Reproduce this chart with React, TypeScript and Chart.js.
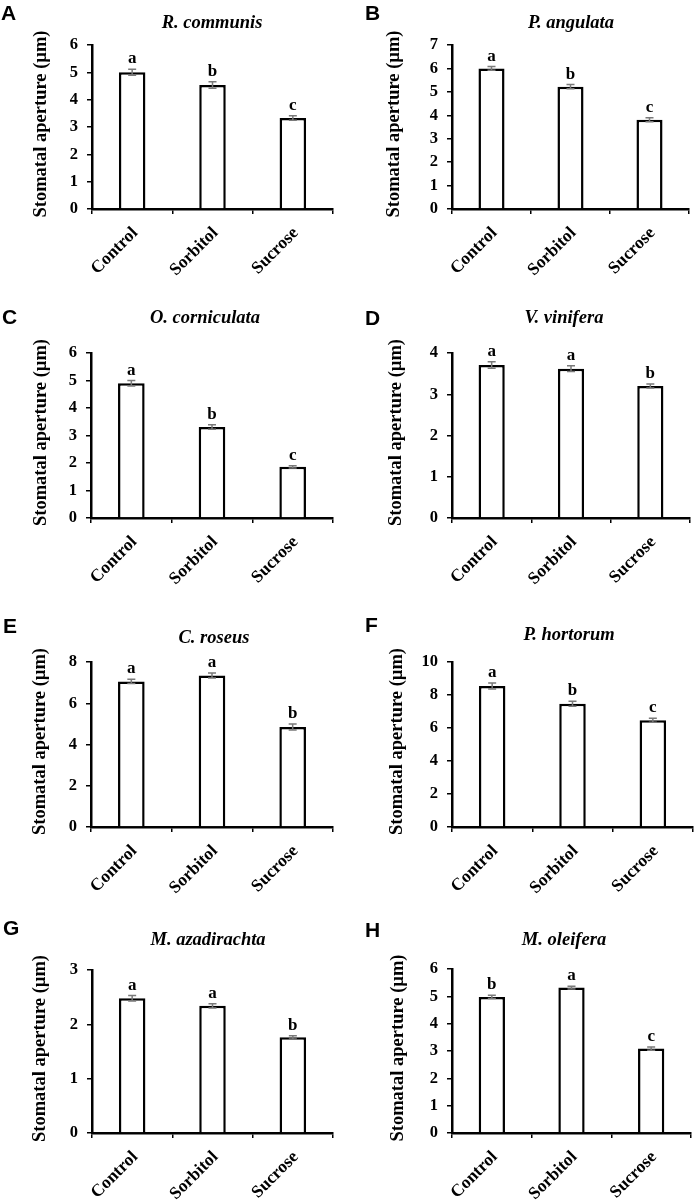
import React, { useEffect, useRef } from 'react';
import Chart from 'chart.js/auto';

const categories = ['Control', 'Sorbitol', 'Sucrose'];
const panelLetters = ['A', 'B', 'C', 'D', 'E', 'F', 'G', 'H'];
const speciesNames = ['R. communis', 'P. angulata', 'O. corniculata', 'V. vinifera', 'C. roseus', 'P. hortorum', 'M. azadirachta', 'M. oleifera'];
const yAxisLabel = 'Stomatal aperture (µm)';

const meansA = [5.0, 4.54, 3.33];
const errorsA = [0.11, 0.12, 0.08];
const sigA = ['a', 'b', 'c'];

const meansB = [6.0, 5.22, 3.81];
const errorsB = [0.08, 0.09, 0.09];
const sigB = ['a', 'b', 'c'];

const meansC = [4.9, 3.31, 1.86];
const errorsC = [0.1, 0.08, 0.04];
const sigC = ['a', 'b', 'c'];

const meansD = [3.71, 3.62, 3.2];
const errorsD = [0.08, 0.07, 0.05];
const sigD = ['a', 'a', 'b'];

const meansE = [7.06, 7.35, 4.85];
const errorsE = [0.1, 0.12, 0.15];
const sigE = ['a', 'a', 'b'];

const meansF = [8.55, 7.47, 6.47];
const errorsF = [0.18, 0.15, 0.12];
const sigF = ['a', 'b', 'c'];

const meansG = [2.48, 2.34, 1.76];
const errorsG = [0.05, 0.04, 0.03];
const sigG = ['a', 'a', 'b'];

const meansH = [4.98, 5.32, 3.09];
const errorsH = [0.06, 0.05, 0.06];
const sigH = ['b', 'a', 'c'];

const yMaxes = [6, 7, 6, 4, 8, 10, 3, 6];
const ySteps = [1, 1, 1, 1, 2, 2, 1, 1];

const allMeans = [meansA, meansB, meansC, meansD, meansE, meansF, meansG, meansH];
const allErrors = [errorsA, errorsB, errorsC, errorsD, errorsE, errorsF, errorsG, errorsH];
const allSig = [sigA, sigB, sigC, sigD, sigE, sigF, sigG, sigH];

// layout (local to each 348x300 panel)
const layouts = [
  { ox: 0, oy: 0, left: 92, top: 45, bottom: 209, right: 333, tx: 212, ty: 28, lx: 1, ly: 20, yl: 41 },
  { ox: 348, oy: 0, left: 104, top: 45, bottom: 209, right: 341, tx: 223, ty: 28, lx: 17, ly: 20, yl: 46 },
  { ox: 0, oy: 300, left: 91, top: 53, bottom: 218, right: 333, tx: 205, ty: 23, lx: 2, ly: 24, yl: 41 },
  { ox: 348, oy: 300, left: 104, top: 53, bottom: 218, right: 342, tx: 216, ty: 23, lx: 17, ly: 25, yl: 48 },
  { ox: 0, oy: 600, left: 91, top: 62, bottom: 227, right: 333, tx: 214, ty: 43, lx: 3, ly: 33, yl: 40 },
  { ox: 348, oy: 600, left: 104, top: 62, bottom: 227, right: 345, tx: 221, ty: 40, lx: 17, ly: 32, yl: 49 },
  { ox: 0, oy: 900, left: 92, top: 70, bottom: 233, right: 333, tx: 208, ty: 45, lx: 3, ly: 35, yl: 40 },
  { ox: 348, oy: 900, left: 104, top: 69, bottom: 233, right: 343, tx: 216, ty: 45, lx: 17, ly: 37, yl: 50 },
];

const W = 348;
const H = 300;
const SERIF = "'Liberation Serif', 'Times New Roman', serif";
const SANS = "'Liberation Sans', Arial, sans-serif";

function Panel({ idx }: { idx: number }) {
  const ref = useRef<HTMLCanvasElement | null>(null);
  useEffect(() => {
    const L = layouts[idx];
    const means = allMeans[idx];
    const errs = allErrors[idx];
    const sig = allSig[idx];
    const decor = {
      id: 'decor' + idx,
      afterDatasetsDraw(chart: any) {
        const ctx = chart.ctx;
        const ys = chart.scales.y;
        const meta = chart.getDatasetMeta(0);
        ctx.save();
        meta.data.forEach((bar: any, i: number) => {
          const x = bar.x;
          const yTop = ys.getPixelForValue(means[i] + errs[i]);
          const yBot = ys.getPixelForValue(means[i] - errs[i]);
          ctx.strokeStyle = '#7a7a7a';
          ctx.lineWidth = 1.5;
          ctx.beginPath();
          ctx.moveTo(x, yTop);
          ctx.lineTo(x, yBot);
          ctx.moveTo(x - 4, yTop);
          ctx.lineTo(x + 4, yTop);
          ctx.moveTo(x - 4, yBot);
          ctx.lineTo(x + 4, yBot);
          ctx.stroke();
          ctx.fillStyle = '#000';
          ctx.font = `bold 17px ${SERIF}`;
          ctx.textAlign = 'center';
          ctx.textBaseline = 'alphabetic';
          ctx.fillText(sig[i], x, yTop - 6);
        });
        ctx.restore();
      },
      afterDraw(chart: any) {
        const ctx = chart.ctx;
        const ca = chart.chartArea;
        ctx.save();
        ctx.fillStyle = '#000';
        ctx.textBaseline = 'alphabetic';
        ctx.font = `bold italic 18.5px ${SERIF}`;
        ctx.textAlign = 'center';
        ctx.fillText(speciesNames[idx], L.tx, L.ty);
        ctx.font = `bold 21px ${SANS}`;
        ctx.textAlign = 'left';
        ctx.fillText(panelLetters[idx], L.lx, L.ly);
        ctx.translate(L.yl, (ca.top + ca.bottom) / 2 - 3);
        ctx.rotate(-Math.PI / 2);
        ctx.font = `bold 18.5px ${SERIF}`;
        ctx.textAlign = 'center';
        ctx.textBaseline = 'middle';
        ctx.fillText(yAxisLabel, 0, 0);
        ctx.restore();
      },
    };
    const chart = new Chart(ref.current as HTMLCanvasElement, {
      type: 'bar',
      data: {
        labels: categories,
        datasets: [
          {
            data: means,
            backgroundColor: '#ffffff',
            borderColor: '#000000',
            borderWidth: 2.5,
            categoryPercentage: 1,
            barPercentage: 0.33,
          },
        ],
      },
      options: {
        animation: false,
        responsive: false,
        events: [],
        layout: { padding: { top: L.top, left: 0, right: W - L.right, bottom: 0 } },
        plugins: { legend: { display: false }, tooltip: { enabled: false }, title: { display: false } },
        scales: {
          x: {
            grid: { display: true, drawOnChartArea: false, color: '#000', lineWidth: 1.5, tickLength: 5, offset: true },
            border: { display: true, color: '#000', width: 2.5 },
            ticks: {
              color: '#000',
              font: { family: SERIF, size: 17.5, weight: 'bold' },
              minRotation: 45,
              maxRotation: 45,
              autoSkip: false,
              padding: 9,
              labelOffset: 3,
            },
            afterFit(scale: any) {
              scale.height = H - L.bottom;
            },
          },
          y: {
            min: 0,
            max: yMaxes[idx],
            grid: { display: true, drawOnChartArea: false, color: '#000', lineWidth: 1.5, tickLength: 5 },
            border: { display: true, color: '#000', width: 2.5 },
            ticks: {
              stepSize: ySteps[idx],
              color: '#000',
              font: { family: SERIF, size: 16.5, weight: 'bold' },
              padding: 9,
            },
            afterFit(scale: any) {
              scale.width = L.left;
            },
          },
        },
      },
      plugins: [decor],
    } as any);
    return () => chart.destroy();
  }, [idx]);
  const L = layouts[idx];
  return (
    <canvas
      ref={ref}
      width={W}
      height={H}
      style={{ position: 'absolute', left: L.ox, top: L.oy, width: W, height: H }}
    />
  );
}

export default function App() {
  return (
    <div style={{ position: 'absolute', left: 0, top: 0, width: 696, height: 1200, background: '#fff' }}>
      {layouts.map((_, i) => (
        <Panel key={i} idx={i} />
      ))}
    </div>
  );
}
